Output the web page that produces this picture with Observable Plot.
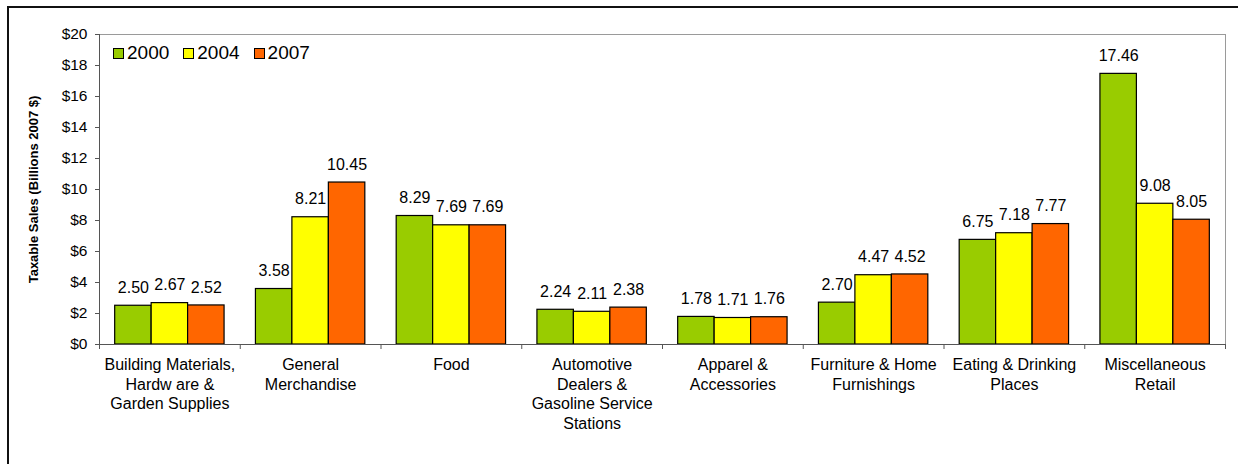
<!DOCTYPE html>
<html>
<head>
<meta charset="utf-8">
<script src="https://cdn.jsdelivr.net/npm/d3@7"></script>
<script src="https://cdn.jsdelivr.net/npm/@observablehq/plot@0.6"></script>
<style>
  html, body { margin: 0; padding: 0; background: #fff; }
  #wrap { position: relative; width: 1238px; height: 464px; overflow: hidden; font-family: "Liberation Sans", Arial, sans-serif; }
  #wrap svg { position: absolute; left: 0; top: 0; }
  #border { position: absolute; left: 7px; top: 6px; width: 1300px; height: 600px; border-left: 2px solid #111; border-top: 2px solid #111; pointer-events: none; }
  #legend { position: absolute; left: 113px; top: 42px; display: flex; align-items: center; gap: 14px; font-size: 19px; color: #000; }
  #legend .item { display: flex; align-items: center; gap: 3px; }
  #legend .sw { width: 9px; height: 9px; border: 1px solid #000; }
  svg g[aria-label="y-axis label"] text { font-weight: bold; font-size: 13px; }
</style>
</head>
<body>
<div id="wrap"></div>
<script>
// ---- data ----
const categories = [
  "Building Materials,\nHardw are &\nGarden Supplies",
  "General\nMerchandise",
  "Food",
  "Automotive\nDealers &\nGasoline Service\nStations",
  "Apparel &\nAccessories",
  "Furniture & Home\nFurnishings",
  "Eating & Drinking\nPlaces",
  "Miscellaneous\nRetail"
];
const years = ["2000", "2004", "2007"];
const values2000 = [2.50, 3.58, 8.29, 2.24, 1.78, 2.70, 6.75, 17.46];
const values2004 = [2.67, 8.21, 7.69, 2.11, 1.71, 4.47, 7.18, 9.08];
const values2007 = [2.52, 10.45, 7.69, 2.38, 1.76, 4.52, 7.77, 8.05];
const yTicks = [0, 2, 4, 6, 8, 10, 12, 14, 16, 18, 20];
const colors = ["#99CC00", "#FFFF00", "#FF6600"];

const series = [values2000, values2004, values2007];
const data = [];
categories.forEach((c, i) => years.forEach((y, j) => data.push({category: c, year: y, value: series[j][i]})));

const W = 1238, H = 464, mL = 99, mR = 13, mT = 34, mB = 120;
const step = (W - mL - mR) / categories.length;

const chart = Plot.plot({
  width: W, height: H,
  marginLeft: mL, marginRight: mR, marginTop: mT, marginBottom: mB,
  style: {fontFamily: '"Liberation Sans", Arial, sans-serif', fontSize: "15px", color: "#000", background: "transparent"},
  fx: {domain: categories, padding: 0, round: false},
  x: {domain: years, paddingInner: 0, paddingOuter: 0.43, round: false, axis: null},
  y: {domain: [0, 20]},
  color: {domain: years, range: colors},
  marks: [
    Plot.frame({facet: "super", stroke: "#9a9a9a"}),
    Plot.barY(data, {fx: "category", x: "year", y: "value", fill: "year", stroke: "#000", strokeWidth: 1.2}),
    Plot.text(data, {fx: "category", x: "year", y: "value", text: d => d.value.toFixed(2), dy: -18, fontSize: 16, fill: "#000"}),
    Plot.frame({facet: "super", anchor: "left", stroke: "#555"}),
    Plot.frame({facet: "super", anchor: "bottom", stroke: "#555"}),
    Plot.axisY({ticks: yTicks, tickFormat: d => "$" + d, tickSize: 4, tickPadding: 8, stroke: "#555", fontSize: 15.5,
      label: "Taxable Sales (Billions 2007 $)", labelAnchor: "center", labelArrow: "none", labelOffset: 71}),
    Plot.axisFx({anchor: "bottom", tickSize: 0, tickPadding: 12, lineHeight: 1.22, fontSize: 16, label: null}),
    Plot.axisFx({anchor: "bottom", tickSize: 5, tickFormat: () => "", dx: -step / 2, label: null, stroke: "#555"}),
    Plot.axisFx({anchor: "bottom", ticks: [categories[categories.length - 1]], tickSize: 5, tickFormat: () => "", dx: step / 2, label: null, stroke: "#555"})
  ]
});

const wrap = document.getElementById("wrap");
wrap.appendChild(chart);

const legend = document.createElement("div");
legend.id = "legend";
years.forEach((y, j) => {
  const item = document.createElement("div");
  item.className = "item";
  const sw = document.createElement("div");
  sw.className = "sw";
  sw.style.background = colors[j];
  const t = document.createElement("span");
  t.textContent = y;
  item.appendChild(sw); item.appendChild(t);
  legend.appendChild(item);
});
wrap.appendChild(legend);

const border = document.createElement("div");
border.id = "border";
wrap.appendChild(border);
</script>
</body>
</html>
